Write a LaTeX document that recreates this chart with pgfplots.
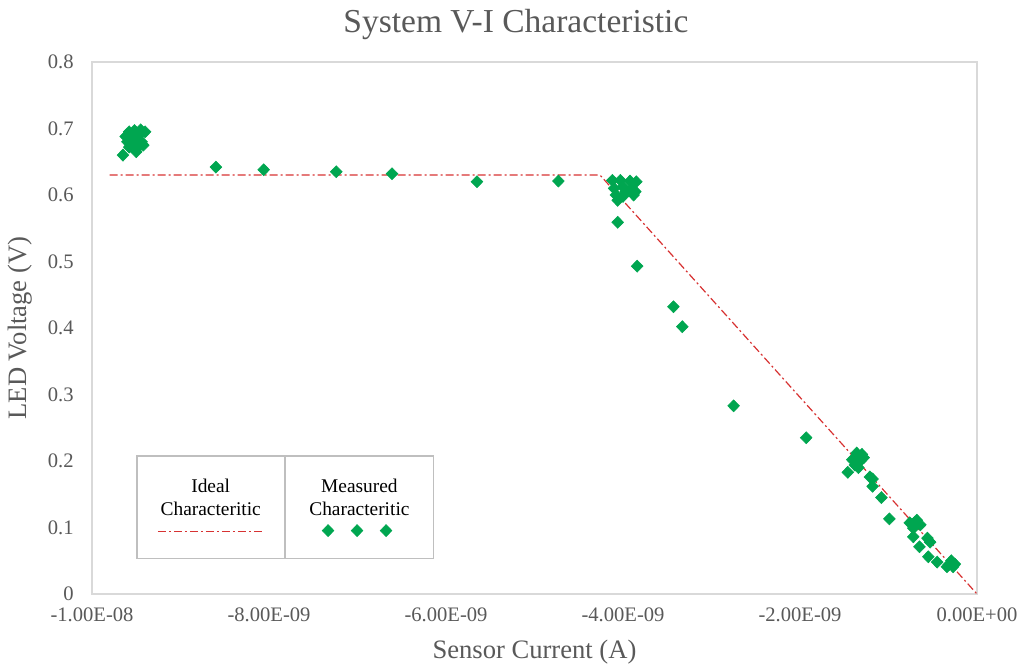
\documentclass[border=0pt]{standalone}
\usepackage{pgfplots}
\pgfplotsset{compat=1.18}
\usepackage{fontspec}
\setmainfont{Liberation Serif}
\definecolor{mgreen}{RGB}{0,166,80}
\definecolor{ideal}{RGB}{215,50,50}
\definecolor{txtgray}{RGB}{89,89,89}
\definecolor{axgray}{RGB}{217,217,217}
\definecolor{frgray}{RGB}{191,191,191}
\begin{document}
\begin{tikzpicture}
\begin{axis}[
  scale only axis, width=442.5pt, height=266pt,
  xmin=-10, xmax=0, ymin=0, ymax=0.8,
  xtick={-10,-8,-6,-4,-2,0},
  xticklabels={-1.00E-08,-8.00E-09,-6.00E-09,-4.00E-09,-2.00E-09,0.00E+00},
  ytick={0,0.1,0.2,0.3,0.4,0.5,0.6,0.7,0.8},
  yticklabels={0,0.1,0.2,0.3,0.4,0.5,0.6,0.7,0.8},
  major tick length=0pt,
  axis line style={draw=axgray, line width=0.7pt},
  tick label style={font=\fontsize{10.3}{12}\selectfont, text=txtgray},
  xticklabel style={anchor=base, yshift=-13.5pt, inner sep=0pt},
  yticklabel style={anchor=east, xshift=-9pt, inner sep=0pt},
  title={System V-I Characteristic},
  title style={at={(0.479,1.0564)}, anchor=base, yshift=-6pt, font=\fontsize{16.75}{20}\selectfont, text=txtgray},
  xlabel={Sensor Current (A)},
  xlabel style={at={(0.5,-0.1203)}, anchor=base, font=\fontsize{13.3}{16}\selectfont, text=txtgray},
  ylabel={LED Voltage (V)},
  ylabel style={at={(-0.0814,0.5)}, anchor=center, font=\fontsize{13.3}{16}\selectfont, text=txtgray},
  legend style={at={(0.0508,0.2594)}, anchor=north west, draw=frgray, solid, line width=0.6pt, fill=white,
    inner sep=0pt, outer sep=0pt, column sep=0pt, row sep=0pt,
    font=\fontsize{9.7}{11.5}\selectfont,
    nodes={text width=73.75pt, align=center, inner sep=0pt, text depth=0pt},
    cells={anchor=center}},
  legend columns=2,
]
\addplot[ideal, line width=0.6pt, dash pattern=on 4pt off 1.5pt on 1pt off 1.5pt,
  legend image code/.code={
    \path[draw=none] (0pt,14.5pt) -- (0pt,-36pt);
    \draw[overlay, ideal, line width=0.6pt, dash pattern=on 4pt off 1.5pt on 1pt off 1.5pt] (10.5pt,-23pt) -- (64pt,-23pt);
  }] coordinates {(-9.8,0.63) (-4.26,0.63) (0,0)};
\addlegendentry{Ideal\\Characteritic}
\addplot[only marks, mark=diamond*, mark size=3pt,
  mark options={draw=mgreen, fill=mgreen, line width=0.3pt, xscale=1.3},
  legend image code/.code={
    \draw[solid, draw=frgray, line width=0.6pt] (0pt,14.5pt) -- (0pt,-36pt);
    \path[overlay, draw=none] plot[mark=diamond*, mark size=3pt, mark options={solid, draw=mgreen, fill=mgreen, line width=0.3pt, xscale=1.3}]
      coordinates {(21.5pt,-22.5pt) (36pt,-22.5pt) (50.5pt,-22.5pt)};
  }] coordinates {
  (-9.65,0.660) (-9.50,0.665) (-9.62,0.688) (-9.58,0.695) (-9.52,0.697) (-9.45,0.698)
  (-9.40,0.695) (-9.55,0.688) (-9.47,0.690) (-9.60,0.680) (-9.52,0.678) (-9.44,0.680)
  (-9.58,0.672) (-9.48,0.672) (-9.42,0.675) (-9.55,0.683)
  (-8.60,0.642) (-8.06,0.638) (-7.24,0.635) (-6.61,0.632) (-5.65,0.620) (-4.73,0.621)
  (-4.12,0.622) (-4.03,0.622) (-3.92,0.621) (-3.85,0.620) (-4.10,0.610) (-4.00,0.612)
  (-3.90,0.610) (-3.86,0.605) (-4.08,0.600) (-3.97,0.605) (-3.88,0.600) (-4.06,0.592)
  (-4.00,0.598)
  (-4.06,0.559) (-3.84,0.493) (-3.43,0.432) (-3.33,0.402) (-2.75,0.283) (-1.93,0.235)
  (-1.36,0.212) (-1.30,0.210) (-1.41,0.202) (-1.32,0.200) (-1.38,0.194) (-1.46,0.183)
  (-1.34,0.190) (-1.28,0.205)
  (-1.21,0.176) (-1.18,0.173) (-1.18,0.162) (-1.08,0.145) (-0.99,0.113)
  (-0.76,0.107) (-0.68,0.111) (-0.64,0.104) (-0.72,0.099) (-0.70,0.108)
  (-0.72,0.086) (-0.56,0.084) (-0.65,0.071) (-0.53,0.078) (-0.55,0.056) (-0.45,0.048)
  (-0.30,0.046) (-0.27,0.041) (-0.34,0.041) (-0.29,0.050) (-0.25,0.045) (-0.32,0.044)
};
\addlegendentry{Measured\\Characteritic}
\end{axis}
\pgfresetboundingbox
\path (-46pt,-38pt) rectangle (465.5pt,297pt);
\end{tikzpicture}
\end{document}
